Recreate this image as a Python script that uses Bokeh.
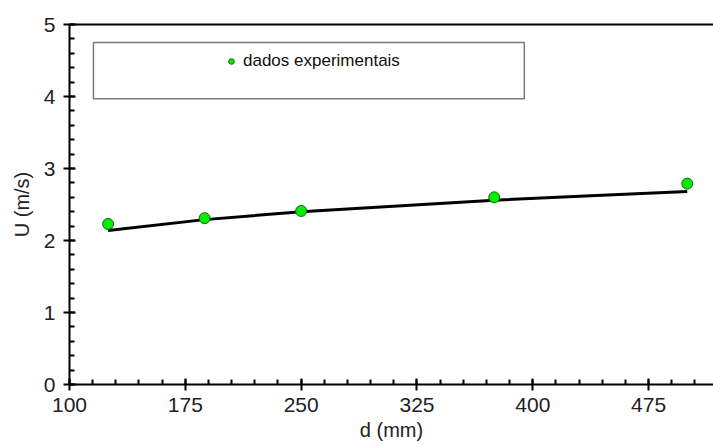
from bokeh.plotting import figure
from bokeh.models import Range1d, FixedTicker, LinearAxis, BoxAnnotation, Legend, LegendItem
from bokeh.embed import file_html
from bokeh.resources import INLINE

# experimental data
d_exp = [125, 187.5, 250, 375, 500]
u_exp = [2.23, 2.31, 2.41, 2.60, 2.79]
# fitted curve
d_fit = [125, 187.5, 250, 312.5, 375, 437.5, 500]
u_fit = [2.14, 2.29, 2.40, 2.48, 2.56, 2.62, 2.68]
# ticks
x_ticks = [100, 175, 250, 325, 400, 475]
y_ticks = [0, 1, 2, 3, 4, 5]
legend_label = "dados experimentais"

FONT = "Liberation Sans"

p = figure(width=713, height=445, output_backend="svg", toolbar_location=None,
           x_range=Range1d(100, 517), y_range=Range1d(0, 5),
           min_border_left=69, min_border_right=0, min_border_top=24, min_border_bottom=61)
p.outline_line_color = None
p.xgrid.visible = False
p.ygrid.visible = False
p.background_fill_color = "white"
p.border_fill_color = "white"

# legend frame box
p.add_layout(BoxAnnotation(left=115.5, right=394.5, bottom=3.97, top=4.75,
                           fill_color="white", fill_alpha=1.0,
                           line_color="#7a7a7a", line_alpha=1.0, line_width=1.5, level="underlay"))

p.line(d_fit, u_fit, line_color="black", line_width=3)
r = p.scatter(d_exp, u_exp, marker="circle", size=11, fill_color="#00ee00",
              line_color="#1f5f1f", line_width=1)

x_minor = [100 + 15 * i for i in range(28)]
y_minor = [0.2 * i for i in range(26)]
p.xaxis.ticker = FixedTicker(ticks=x_ticks, minor_ticks=x_minor)
p.yaxis.ticker = FixedTicker(ticks=y_ticks, minor_ticks=y_minor)

for ax in (p.xaxis[0], p.yaxis[0]):
    ax.axis_line_width = 2
    ax.axis_line_color = "black"
    ax.major_tick_in = 6
    ax.major_tick_out = 6
    ax.major_tick_line_width = 2
    ax.minor_tick_in = 5
    ax.minor_tick_out = 0
    ax.minor_tick_line_width = 2
    ax.major_label_text_font = FONT
    ax.major_label_text_font_size = "21px"
    ax.major_label_text_color = "#222222"
    ax.axis_label_text_font = FONT
    ax.axis_label_text_font_size = "20px"
    ax.axis_label_text_font_style = "normal"
    ax.axis_label_text_color = "#222222"
    ax.major_label_standoff = 8
    ax.axis_label_standoff = 8

p.xaxis.axis_label = "d (mm)"
p.yaxis.axis_label = "U (m/s)"
p.xaxis.major_label_standoff = 7
p.xaxis.axis_label_standoff = 4

top = LinearAxis(ticker=FixedTicker(ticks=[]), axis_line_width=2, axis_line_color="black",
                 major_tick_in=0, major_tick_out=0, minor_tick_in=0, minor_tick_out=0)
p.add_layout(top, "above")

legend = Legend(items=[LegendItem(label=legend_label, renderers=[r])],
                location=(155, 313), border_line_color=None, background_fill_alpha=0,
                padding=0, margin=0, glyph_width=14, glyph_height=16, label_height=16,
                label_standoff=5, label_text_font=FONT, label_text_font_size="17px",
                label_text_color="#111111")
p.add_layout(legend)

open("out.html", "w").write(file_html(p, INLINE))
